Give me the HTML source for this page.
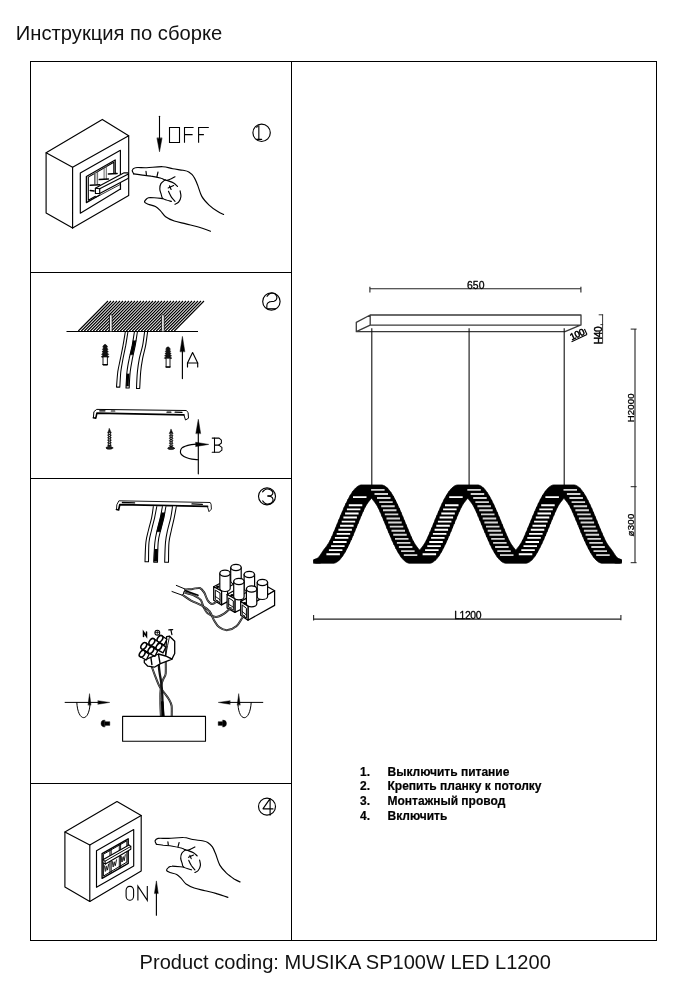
<!DOCTYPE html>
<html><head><meta charset="utf-8">
<style>
html,body{margin:0;padding:0;background:#fff;}
body{width:690px;height:1000px;position:relative;overflow:hidden;font-family:"Liberation Sans",sans-serif;color:#111;}
#title,#footer,.lst{filter:grayscale(1);}
#title{position:absolute;left:15.8px;top:21.5px;font-size:20.2px;line-height:22px;white-space:nowrap;}
#footer{position:absolute;left:139.6px;top:950.8px;font-size:20.06px;line-height:23px;white-space:nowrap;}
svg{position:absolute;left:0;top:0;}
.lst{position:absolute;left:360px;font-size:12px;font-weight:bold;line-height:15px;white-space:nowrap;letter-spacing:0px;color:#000;-webkit-text-stroke:0.2px #000;}
.lst b{display:inline-block;width:27.5px;}
</style></head><body>
<div id="title">Инструкция по сборке</div>
<svg width="690" height="1000" viewBox="0 0 690 1000" fill="none" stroke="#000" stroke-width="1.15" stroke-linecap="round" stroke-linejoin="round">
<!-- FRAME -->
<g id="frame" stroke-width="1" stroke-linecap="square" shape-rendering="crispEdges">
<rect x="30.5" y="61.5" width="626" height="879"/>
<line x1="291.5" y1="61.5" x2="291.5" y2="940.5"/>
<line x1="30.5" y1="272.5" x2="291.5" y2="272.5"/>
<line x1="30.5" y1="478.5" x2="291.5" y2="478.5"/>
<line x1="30.5" y1="783.5" x2="291.5" y2="783.5"/>
</g>
<!-- PANEL1 -->
<g id="panel1">
<path d="M46.1 152.8 L102.3 119.4 L128.7 135.8 L72.6 167.2 Z"/>
<path d="M46.1 152.8 L46.1 212.9 L72.6 228.1 L72.6 167.2"/>
<path d="M72.6 228.1 L128.7 195.5 L128.7 135.8"/>
<path d="M80.3 173.0 L120.4 150.3 L120.4 189.0 L80.3 213.2 Z"/>
<path d="M115.2 173.5 L115.2 160.0 L86.4 176.5 L86.4 202.6 L99.7 195.0" stroke-width="1.3"/>
<path d="M113.8 173.0 L113.8 162.2 L88.3 177.1 L88.3 200.3 L95.4 196.3" stroke-width="1.1"/>
<path d="M95.4 188.3 L99.3 186.1 L124.1 172.8 L128.4 172.8 L128.4 178.3 L99.7 193.5 L95.4 193.5 Z" fill="#fff"/>
<path d="M95.4 188.3 L99.7 188.7 L128.4 173.9"/>
<path d="M99.7 188.7 L99.7 193.5"/>
<path d="M95.8 197.4 L120.6 184.3 L120.6 189.6" stroke-width="0.8"/>
<path d="M94.5 172.4 L94.5 183.9" stroke-width="0.9" stroke="#555"/>
<path d="M97.6 171.0 L97.6 183.9" stroke-width="0.9" stroke="#555"/>
<path d="M104.1 167.2 L104.1 179.1" stroke-width="0.9" stroke="#555"/>
<path d="M106.3 165.8 L106.3 179.1" stroke-width="0.9" stroke="#555"/>
<path d="M95.8 172.6 L95.8 183.5" stroke-width="1.2" stroke="#888"/>
<path d="M90.2 185.2 L99.7 184.8" stroke-width="1.5"/>
<path d="M99.3 179.6 L108.4 179.1" stroke-width="1.5"/>
<path d="M108.4 173.9 L117.1 173.5" stroke-width="1.5"/>
<path d="M90.2 190.4 L94.1 190.9" stroke-width="1.5"/>
<path d="M133.7 173.9 C133.5 173.3 132.0 171.3 132.2 170.3 C132.5 169.3 133.0 168.1 135.4 167.7 C137.9 167.2 142.2 167.9 146.7 167.7 C151.3 167.5 158.3 166.5 162.7 166.7 C167.0 166.9 169.4 168.2 172.8 168.8 C176.2 169.4 180.3 169.8 183.0 170.3 C185.6 170.8 187.0 170.9 188.8 172.0 C190.6 173.1 192.4 174.7 193.8 176.8 C195.3 178.9 196.1 181.5 197.5 184.8 C198.8 188.0 199.9 193.0 201.8 196.4 C203.7 199.8 206.4 202.5 209.1 205.1 C211.7 207.6 215.3 210.0 217.8 211.6 C220.2 213.2 222.6 214.0 223.6 214.5"/>
<path d="M133.7 173.9 C134.9 174.1 138.0 174.6 140.9 174.9 C143.8 175.3 147.7 175.5 151.1 176.1 C154.5 176.6 158.6 177.5 161.2 178.3 C163.9 179.0 164.7 180.7 167.0 180.4 C169.3 180.2 173.7 177.4 175.0 176.8"/>
<path d="M146.0 171.4 L146.4 174.6"/>
<path d="M158.0 172.0 L156.9 176.8"/>
<path d="M165.3 179.7 C164.6 180.4 161.9 182.1 160.9 183.6 C160.0 185.2 159.7 187.4 159.8 189.1 C159.8 190.9 160.7 192.6 161.2 194.2 C161.8 195.8 161.3 197.3 163.0 198.6 C164.7 199.8 170.0 201.0 171.4 201.4"/>
<path d="M167.0 180.4 C168.1 180.9 171.8 182.0 173.6 183.0 C175.3 184.1 176.8 185.9 177.5 186.5"/>
<path d="M180.1 190.9 C180.2 191.8 181.2 194.8 180.9 196.7 C180.7 198.6 179.6 200.9 178.6 202.2 C177.6 203.5 175.6 204.0 175.0 204.3"/>
<path d="M168.2 188.0 L173.6 185.5"/>
<path d="M169.6 185.9 L171.1 189.4"/>
<path d="M168.5 191.3 C169.0 192.3 170.3 195.4 171.4 197.1 C172.5 198.8 174.4 200.7 175.0 201.4"/>
<path d="M163.0 198.6 C160.9 198.4 153.1 197.5 150.4 197.5 C147.7 197.6 147.7 198.1 146.7 198.8 C145.8 199.6 144.3 201.3 144.6 202.2 C144.8 203.1 146.4 203.6 148.2 204.3 C150.0 205.1 153.4 205.4 155.4 206.5 C157.5 207.6 158.8 209.2 160.5 210.9 C162.2 212.6 163.3 215.0 165.6 216.7 C167.9 218.4 170.9 219.8 174.3 221.0 C177.7 222.2 182.0 222.9 185.9 223.9 C189.7 224.9 193.4 225.6 197.5 226.8 C201.6 228.0 208.3 230.4 210.5 231.2"/>
<path d="M159.5 116.2 L159.5 140" stroke-width="1.1"/>
<path d="M157 138.2 L159.5 151.8 L162 138.2 Z" fill="#000" stroke-width="0.5"/>
<path d="M169.5 127.5 H179.5 V142.5 H169.5 Z" stroke-width="1.1" stroke-linejoin="miter"/>
<path d="M193.6 127.5 H184.5 V142.8 M184.5 134.6 H192.6" stroke-width="1.1" stroke-linecap="butt" stroke-linejoin="miter"/>
<path d="M208.8 127.5 H198.6 V142.8 M198.6 134.6 H203.9" stroke-width="1.1" stroke-linecap="butt" stroke-linejoin="miter"/>
<circle cx="261.6" cy="132.75" r="8.7"/>
<path d="M256.5 127.1 L258.8 125.7 L258.8 139.2" stroke-width="1.4" stroke="#333"/>
<path d="M256.6 139.3 L261.7 139.3" stroke-width="1.2"/>
</g>
<!-- /PANEL1 -->
<!-- PANEL2 -->
<g id="panel2">
<path d="M78.30 331.0 L108.00 301.0 M81.30 331.0 L111.00 301.0 M84.30 331.0 L114.00 301.0 M87.30 331.0 L117.00 301.0 M90.30 331.0 L120.00 301.0 M93.30 331.0 L123.00 301.0 M96.30 331.0 L126.00 301.0 M99.30 331.0 L129.00 301.0 M102.30 331.0 L132.00 301.0 M105.30 331.0 L135.00 301.0 M108.30 331.0 L138.00 301.0 M111.30 331.0 L141.00 301.0 M114.30 331.0 L144.00 301.0 M117.30 331.0 L147.00 301.0 M120.30 331.0 L150.00 301.0 M123.30 331.0 L153.00 301.0 M126.30 331.0 L156.00 301.0 M129.30 331.0 L159.00 301.0 M132.30 331.0 L162.00 301.0 M135.30 331.0 L165.00 301.0 M138.30 331.0 L168.00 301.0 M141.30 331.0 L171.00 301.0 M144.30 331.0 L174.00 301.0 M147.30 331.0 L177.00 301.0 M150.30 331.0 L180.00 301.0 M153.30 331.0 L183.00 301.0 M156.30 331.0 L186.00 301.0 M159.30 331.0 L189.00 301.0 M162.30 331.0 L192.00 301.0 M165.30 331.0 L195.00 301.0 M168.30 331.0 L198.00 301.0 M171.30 331.0 L201.00 301.0 M174.30 331.0 L204.00 301.0 " stroke-width="1.1" stroke="#000" stroke-linecap="butt"/>
<path d="M66.5 331.5 L198 331.5" stroke-width="1.1" stroke-linecap="butt"/>
<path d="M109.6 331.3 L109.6 315.3 Q110.8 313.8 112.1 315.3 L112.1 331.3" fill="#fff" stroke-width="0.8"/>
<path d="M161.7 331.3 L161.7 315.3 Q162.9 313.8 164.2 315.3 L164.2 331.3" fill="#fff" stroke-width="0.8"/>
<path d="M125.3 332.0 C124.9 334.2 123.8 341.2 123.0 345.7 C122.2 350.1 121.3 354.3 120.4 358.7 C119.6 363.0 118.5 367.0 117.8 371.7 C117.2 376.5 116.7 384.6 116.5 387.1 L119.8 387.1 C120.0 384.6 120.3 376.5 120.8 371.7 C121.4 367.0 122.2 363.0 123.0 358.7 C123.8 354.3 124.8 350.1 125.7 345.7 C126.5 341.2 127.5 334.2 127.9 332.0" fill="#fff" stroke-width="1.05"/>
<path d="M134.4 332.0 C134.0 334.2 133.0 341.2 132.2 345.7 C131.3 350.1 130.0 354.3 129.2 358.7 C128.3 363.0 127.5 366.8 127.0 371.7 C126.4 376.6 126.2 385.3 126.0 388.0 L129.2 388.0 C129.3 385.3 129.7 376.6 130.2 371.7 C130.8 366.8 131.6 363.0 132.4 358.7 C133.3 354.3 134.3 350.1 135.2 345.7 C136.0 341.2 137.0 334.2 137.4 332.0" fill="#fff" stroke-width="1.05"/>
<path d="M144.6 332.0 C144.2 334.2 143.5 341.2 142.6 345.7 C141.7 350.1 140.2 354.3 139.3 358.7 C138.5 363.0 137.9 366.8 137.4 371.7 C136.9 376.7 136.6 385.6 136.5 388.4 L139.7 388.4 C139.9 385.6 140.2 376.7 140.7 371.7 C141.1 366.8 141.8 363.0 142.6 358.7 C143.4 354.3 144.8 350.1 145.6 345.7 C146.4 341.2 147.2 334.2 147.6 332.0" fill="#fff" stroke-width="1.05"/>
<path d="M133.2 340.4 C133.0 341.3 132.7 343.3 132.2 345.7 C131.7 348.0 130.5 353.3 130.2 354.8 L132.8 354.8 C133.2 353.3 134.4 348.0 134.9 345.7 C135.4 343.3 135.8 341.3 136.0 340.4" fill="#000" stroke-width="0.5"/>
<path d="M127.0 373.7 C126.8 375.8 126.4 384.0 126.3 386.1 L128.7 386.1 C128.7 384.0 129.1 375.8 129.2 373.7" fill="#000" stroke-width="0.5"/>
<path d="M104.1 345.1 Q105.2 343.6 106.2 345.1 L106.4 345.1 L107.6 347.1 L106.4 347.6 L106.6 347.6 L108.0 349.5 L106.6 350.0 L106.8 350.0 L108.3 352.0 L106.8 352.5 L106.9 352.5 L108.7 354.4 L106.9 354.9 L107.1 354.9 L109.1 356.9 L107.1 357.4 L103.2 357.4 L101.3 356.9 L103.2 354.9 L103.4 354.9 L101.6 354.4 L103.4 352.5 L103.6 352.5 L102.0 352.0 L103.6 350.0 L103.8 350.0 L102.4 349.5 L103.8 347.6 L104.0 347.6 L102.7 347.1 L104.0 345.1 Z" fill="#111" stroke-width="0.6"/>
<path d="M103.0 357.4 L103.0 365.0 L107.4 365.0 L107.4 357.4" fill="#fff" stroke-width="0.9"/>
<path d="M103.0 364.6 L107.4 364.6" stroke-width="1.4"/>
<path d="M167.0 347.5 Q168.0 345.9 169.1 347.5 L169.2 347.5 L170.4 349.3 L169.2 349.7 L169.4 349.7 L170.7 351.5 L169.4 352.0 L169.6 352.0 L171.1 353.8 L169.6 354.2 L169.8 354.2 L171.5 356.0 L169.8 356.4 L169.9 356.4 L171.8 358.2 L169.9 358.7 L166.1 358.7 L164.3 358.2 L166.1 356.4 L166.3 356.4 L164.6 356.0 L166.3 354.2 L166.5 354.2 L165.0 353.8 L166.5 352.0 L166.7 352.0 L165.3 351.5 L166.7 349.7 L166.9 349.7 L165.7 349.3 L166.9 347.5 Z" fill="#111" stroke-width="0.6"/>
<path d="M166.1 358.7 L166.1 367.3 L170.0 367.3 L170.0 358.7" fill="#fff" stroke-width="0.9"/>
<path d="M166.1 366.9 L170.0 366.9" stroke-width="1.4"/>
<path d="M182.4 350.3 L182.4 378.6"/>
<path d="M180.1 351.4 L182.4 336.4 L184.8 351.4 Z" fill="#000" stroke-width="0.5"/>
<path d="M187.5 367.0 L187.5 363.0 L192.6 352.6 L197.7 363.0 L197.7 367.0"/>
<path d="M187.5 363.0 L197.7 363.0"/>
<circle cx="271.4" cy="301.5" r="8.7"/>
<path d="M267.1 296.3 C267.5 295.9 268.5 294.2 269.7 293.7 C270.9 293.2 273.2 292.9 274.3 293.4 C275.5 293.9 276.4 295.6 276.8 296.6 C277.1 297.6 276.8 298.7 276.4 299.5 C275.9 300.3 275.2 300.8 274.1 301.2 C272.9 301.6 270.6 301.4 269.4 301.9 C268.3 302.4 267.5 303.1 267.1 304.1 C266.7 305.2 266.9 307.5 266.8 308.2"/>
<path d="M267.2 308.7 L275.7 308.7" stroke-width="1.0"/>
<path d="M93.4 417.7 L93.9 411.7 L96.7 409.4 L186.2 410.5 L188.1 412.4 L188.5 418.2 L185.5 420.0 L183.9 414.9" stroke-width="1.0"/>
<path d="M93.4 417.7 L95.8 418.2 L96.9 413.1 L183.9 414.9" stroke-width="1.6"/>
<path d="M99.7 410.8 L105.0 410.8" stroke-width="1.2"/>
<path d="M111.3 411.0 L114.8 411.0" stroke-width="1.2"/>
<path d="M167.0 412.2 L170.9 412.2" stroke-width="1.2"/>
<path d="M175.1 412.2 L182.0 412.4" stroke-width="1.2"/>
<path d="M109.4 428.6 L110.6 431.4 L111.3 432.7 L110.4 433.9 L111.3 435.2 L110.4 436.4 L111.3 437.7 L110.4 438.9 L111.3 440.2 L110.4 441.5 L111.3 442.7 L110.4 444.0 L111.3 445.2 L110.4 446.5 L108.5 446.5 L107.6 445.2 L108.5 444.0 L107.6 442.7 L108.5 441.5 L107.6 440.2 L108.5 438.9 L107.6 437.7 L108.5 436.4 L107.6 435.2 L108.5 433.9 L107.6 432.7 L108.3 431.4 Z" fill="#111" stroke-width="0.5"/>
<path d="M109.4 432.8 L109.4 446.0" stroke="#fff" stroke-width="0.9" stroke-dasharray="1.1 1.1" stroke-linecap="butt"/>
<ellipse cx="109.4" cy="447.9" rx="3.4" ry="1.3" fill="#222" stroke-width="0.6"/>
<path d="M171.1 429.3 L172.3 432.1 L173.0 433.3 L172.1 434.6 L173.0 435.8 L172.1 437.0 L173.0 438.3 L172.1 439.5 L173.0 440.8 L172.1 442.0 L173.0 443.2 L172.1 444.5 L173.0 445.7 L172.1 446.9 L170.2 446.9 L169.3 445.7 L170.2 444.5 L169.3 443.2 L170.2 442.0 L169.3 440.8 L170.2 439.5 L169.3 438.3 L170.2 437.0 L169.3 435.8 L170.2 434.6 L169.3 433.3 L170.0 432.1 Z" fill="#111" stroke-width="0.5"/>
<path d="M171.1 433.5 L171.1 446.5" stroke="#fff" stroke-width="0.9" stroke-dasharray="1.1 1.1" stroke-linecap="butt"/>
<ellipse cx="171.1" cy="448.3" rx="3.4" ry="1.3" fill="#222" stroke-width="0.6"/>
<path d="M198.3 432.1 L198.3 473.8"/>
<path d="M195.9 433.3 L198.3 419.3 L200.6 433.3 Z" fill="#000" stroke-width="0.5"/>
<path d="M198.3 459.7 C196.7 459.5 191.8 459.5 189.0 458.5 C186.1 457.6 182.3 455.9 181.1 454.1 C179.9 452.4 180.3 449.5 182.0 447.9 C183.7 446.3 188.6 445.2 191.3 444.6 C194.0 444.0 197.1 444.2 198.3 444.2"/>
<path d="M195.9 442.3 L208.7 444.4 L195.9 446.5 Z" fill="#000" stroke-width="0.5"/>
<path d="M212.2 438.1 L219.1 438.1 L221.4 440.2 L221.4 443.0 L218.7 445.1 L214.5 445.1" stroke-width="1.05"/>
<path d="M218.7 445.1 L221.9 447.4 L221.9 450.2 L219.1 452.3 L212.2 452.3" stroke-width="1.05"/>
<path d="M214.5 438.1 L214.5 452.3" stroke-width="1.05"/>
</g>
<!-- /PANEL2 -->
<!-- PANEL3 -->
<g id="panel3">
<path d="M116.5 509.5 L116.8 504.8 L118.9 500.8 L210.2 502.5 L211.1 504.3 L211.4 509.1 L209.0 511.7 L207.6 507.0" stroke-width="0.9"/>
<path d="M116.5 509.5 L118.6 510.0 L119.8 504.6 L207.6 506.3" stroke-width="1.7"/>
<path d="M122.4 502.5 L134.6 502.9" stroke-width="1.3"/>
<path d="M192.0 503.9 L202.4 504.3" stroke-width="1.3"/>
<path d="M153.3 506.5 C153.1 508.4 152.4 513.9 151.6 517.8 C150.8 521.7 149.4 525.9 148.5 530.0 C147.5 534.1 146.4 536.9 145.9 542.2 C145.3 547.4 145.1 558.4 145.0 561.7 L148.5 561.7 C148.6 558.4 148.5 547.4 149.0 542.2 C149.5 536.9 150.7 534.1 151.6 530.0 C152.5 525.9 153.7 521.7 154.6 517.8 C155.4 513.9 156.4 508.4 156.8 506.5" fill="#fff" stroke-width="1.05"/>
<path d="M162.4 506.5 C162.0 508.4 161.2 513.9 160.3 517.8 C159.4 521.7 158.1 525.9 157.2 530.0 C156.3 534.1 155.5 536.8 154.9 542.2 C154.3 547.5 153.9 558.8 153.7 562.2 L157.5 562.2 C157.6 558.8 157.7 547.5 158.2 542.2 C158.7 536.8 159.7 534.1 160.7 530.0 C161.6 525.9 162.9 521.7 163.8 517.8 C164.7 513.9 165.5 508.4 165.9 506.5" fill="#fff" stroke-width="1.05"/>
<path d="M172.5 506.5 C172.2 508.4 171.6 513.9 170.7 517.8 C169.9 521.7 168.5 525.9 167.6 530.0 C166.7 534.1 166.0 536.8 165.5 542.2 C165.0 547.5 164.8 558.8 164.7 562.2 L168.5 562.2 C168.6 558.8 168.5 547.5 169.0 542.2 C169.5 536.8 170.6 534.1 171.4 530.0 C172.3 525.9 173.4 521.7 174.2 517.8 C175.0 513.9 176.0 508.4 176.3 506.5" fill="#fff" stroke-width="1.05"/>
<path d="M161.5 512.6 C161.3 513.5 161.1 514.6 160.3 517.8 C159.5 521.0 157.4 529.4 156.8 531.7 L160.3 531.7 C160.9 529.4 163.1 521.0 163.8 517.8 C164.5 514.6 164.5 513.5 164.7 512.6" fill="#000" stroke-width="0.5"/>
<path d="M154.6 549.1 C154.5 551.2 154.1 559.3 154.0 561.3 L157.2 561.3 C157.3 559.3 157.6 551.2 157.7 549.1" fill="#000" stroke-width="0.5"/>
<circle cx="267.0" cy="496.3" r="8.5" stroke-width="1.15"/>
<path d="M262.6 491.9 C262.9 491.5 263.8 490.4 264.6 489.9 C265.3 489.4 266.2 489.0 267.2 489.0 C268.2 489.0 269.5 489.2 270.4 489.7 C271.3 490.1 272.1 491.0 272.5 491.6 C272.9 492.3 273.0 492.9 272.8 493.6 C272.6 494.2 272.0 495.0 271.2 495.4 C270.4 495.8 268.4 495.9 267.8 496.0"/>
<path d="M267.8 496.0 C268.4 496.2 270.4 496.4 271.2 496.8 C272.1 497.3 272.7 498.2 272.9 498.9 C273.2 499.6 273.0 500.5 272.7 501.2 C272.3 501.9 271.5 502.9 270.6 503.4 C269.7 503.8 268.2 504.2 267.2 504.1 C266.2 504.1 265.3 503.5 264.6 503.0 C263.8 502.4 263.0 501.2 262.7 500.9"/>
<path d="M213.7 586.7 L221.5 591.0 L242.4 579.3 L234.6 575.5 Z" fill="#fff" stroke-width="1.25"/>
<path d="M221.5 591.0 L221.5 604.9 L227.6 601.6 L227.6 588.0 Z" fill="#fff" stroke-width="1.25"/>
<path d="M230.7 567.5 L230.7 581.1 A5.2 3.1 0 0 0 241.2 581.1 L241.2 567.5 Z" fill="#fff" stroke-width="1.2"/>
<ellipse cx="236.0" cy="567.5" rx="5.2" ry="3.1" fill="#fff" stroke-width="1.25"/>
<path d="M219.8 573.3 L219.8 588.4 A5.2 3.1 0 0 0 230.2 588.4 L230.2 573.3 Z" fill="#fff" stroke-width="1.2"/>
<ellipse cx="225.0" cy="573.3" rx="5.2" ry="3.1" fill="#fff" stroke-width="1.25"/>
<path d="M213.7 586.7 L213.7 600.2 L221.5 604.9 L221.5 591.0 Z" fill="#fff" stroke-width="1.25"/>
<path d="M215.3 590.5 L215.3 599.5 L220.0 602.8 L220.0 593.4 Z" stroke-width="1.0"/>
<path d="M215.3 596.4 L220.0 599.7" stroke-width="0.9"/>
<ellipse cx="217.7" cy="586.8" rx="1.6" ry="1.2" fill="#000" stroke="none"/>
<path d="M227.1 594.5 L234.9 598.8 L255.8 587.2 L248.1 582.8 Z" fill="#fff" stroke-width="1.25"/>
<path d="M234.9 598.8 L234.9 612.4 L241.2 609.3 L241.2 595.7 Z" fill="#fff" stroke-width="1.25"/>
<path d="M244.1 574.5 L244.1 588.4 A5.2 3.1 0 0 0 254.6 588.4 L254.6 574.5 Z" fill="#fff" stroke-width="1.2"/>
<ellipse cx="249.3" cy="574.5" rx="5.2" ry="3.1" fill="#fff" stroke-width="1.25"/>
<path d="M233.7 581.4 L233.7 596.7 A5.2 3.1 0 0 0 244.1 596.7 L244.1 581.4 Z" fill="#fff" stroke-width="1.2"/>
<ellipse cx="238.9" cy="581.4" rx="5.2" ry="3.1" fill="#fff" stroke-width="1.25"/>
<path d="M227.1 594.5 L227.1 608.0 L234.9 612.4 L234.9 598.8 Z" fill="#fff" stroke-width="1.25"/>
<path d="M228.7 598.3 L228.7 607.3 L233.3 610.3 L233.3 601.3 Z" stroke-width="1.0"/>
<path d="M228.7 604.2 L233.3 607.2" stroke-width="0.9"/>
<ellipse cx="232.0" cy="595.3" rx="1.6" ry="1.2" fill="#000" stroke="none"/>
<path d="M240.7 601.4 L248.0 606.3 L274.6 590.7 L267.6 586.7 Z" fill="#fff" stroke-width="1.25"/>
<path d="M248.0 606.3 L248.0 620.2 L274.6 605.4 L274.6 590.7 Z" fill="#fff" stroke-width="1.25"/>
<path d="M257.2 582.5 L257.2 596.4 A5.2 3.1 0 0 0 267.6 596.4 L267.6 582.5 Z" fill="#fff" stroke-width="1.2"/>
<ellipse cx="262.4" cy="582.5" rx="5.2" ry="3.1" fill="#fff" stroke-width="1.25"/>
<path d="M246.4 588.9 L246.4 603.7 A5.2 3.1 0 0 0 256.8 603.7 L256.8 588.9 Z" fill="#fff" stroke-width="1.2"/>
<ellipse cx="251.6" cy="588.9" rx="5.2" ry="3.1" fill="#fff" stroke-width="1.25"/>
<path d="M240.7 601.4 L240.7 615.3 L248.0 620.2 L248.0 606.3 Z" fill="#fff" stroke-width="1.25"/>
<path d="M242.2 605.3 L242.2 614.7 L246.4 618.1 L246.4 608.7 Z" stroke-width="1.0"/>
<path d="M242.2 611.5 L246.4 615.0" stroke-width="0.9"/>
<ellipse cx="244.7" cy="603.3" rx="1.6" ry="1.2" fill="#000" stroke="none"/>
<path d="M172.0 591.5 L182.4 595.3 L185.9 589.4 L176.3 585.4" stroke-width="1.0"/>
<path d="M185.0 589.8 C186.3 589.6 190.4 589.2 192.8 588.9 C195.3 588.6 197.9 587.5 199.8 588.0 C201.7 588.6 202.8 590.4 204.1 592.4 C205.4 594.4 206.3 598.3 207.6 600.2 C208.9 602.2 210.4 603.9 212.0 604.0 C213.6 604.2 216.3 601.6 217.2 601.1" stroke-width="2.0" stroke="#111"/>
<path d="M185.0 589.8 C186.3 589.6 190.4 589.2 192.8 588.9 C195.3 588.6 197.9 587.5 199.8 588.0 C201.7 588.6 202.8 590.4 204.1 592.4 C205.4 594.4 206.3 598.3 207.6 600.2 C208.9 602.2 210.4 603.9 212.0 604.0 C213.6 604.2 216.3 601.6 217.2 601.1" stroke-width="0.55" stroke="#ccc"/>
<path d="M184.1 592.4 C185.7 592.9 190.9 594.1 193.7 595.3 C196.4 596.6 199.0 597.9 200.7 599.9 C202.3 601.8 202.4 604.9 203.6 607.2 C204.8 609.4 205.6 611.6 207.6 613.3 C209.6 614.9 213.1 616.8 215.8 616.9 C218.5 617.0 221.3 615.3 223.8 613.8 C226.3 612.3 229.6 609.0 230.7 608.0" stroke-width="2.0" stroke="#111"/>
<path d="M184.1 592.4 C185.7 592.9 190.9 594.1 193.7 595.3 C196.4 596.6 199.0 597.9 200.7 599.9 C202.3 601.8 202.4 604.9 203.6 607.2 C204.8 609.4 205.6 611.6 207.6 613.3 C209.6 614.9 213.1 616.8 215.8 616.9 C218.5 617.0 221.3 615.3 223.8 613.8 C226.3 612.3 229.6 609.0 230.7 608.0" stroke-width="0.55" stroke="#ccc"/>
<path d="M182.7 595.0 C184.1 595.9 188.0 598.8 191.1 600.6 C194.2 602.3 198.5 603.7 201.5 605.4 C204.6 607.2 207.3 608.5 209.3 611.0 C211.4 613.5 212.4 617.5 214.0 620.2 C215.7 622.9 217.0 625.7 219.3 627.3 C221.5 629.0 224.8 630.3 227.6 630.1 C230.4 630.0 234.0 628.2 236.3 626.3 C238.6 624.4 240.3 620.7 241.5 619.0 C242.8 617.3 243.4 616.4 243.8 615.9" stroke-width="2.0" stroke="#111"/>
<path d="M182.7 595.0 C184.1 595.9 188.0 598.8 191.1 600.6 C194.2 602.3 198.5 603.7 201.5 605.4 C204.6 607.2 207.3 608.5 209.3 611.0 C211.4 613.5 212.4 617.5 214.0 620.2 C215.7 622.9 217.0 625.7 219.3 627.3 C221.5 629.0 224.8 630.3 227.6 630.1 C230.4 630.0 234.0 628.2 236.3 626.3 C238.6 624.4 240.3 620.7 241.5 619.0 C242.8 617.3 243.4 616.4 243.8 615.9" stroke-width="0.55" stroke="#ccc"/>
<path d="M185.5 590.7 L198.0 595.3" stroke-width="1.6"/>
<path d="M151.7 666.5 C152.3 668.1 153.9 672.8 155.2 676.1 C156.5 679.4 158.0 683.6 159.6 686.5 C161.2 689.4 163.2 691.3 164.8 693.5 C166.4 695.7 168.0 697.5 169.1 699.6 C170.3 701.6 171.1 702.9 171.6 705.7 C172.0 708.4 171.7 714.3 171.7 716.1" stroke-width="2.0" stroke="#111"/>
<path d="M151.7 666.5 C152.3 668.1 153.9 672.8 155.2 676.1 C156.5 679.4 158.0 683.6 159.6 686.5 C161.2 689.4 163.2 691.3 164.8 693.5 C166.4 695.7 168.0 697.5 169.1 699.6 C170.3 701.6 171.1 702.9 171.6 705.7 C172.0 708.4 171.7 714.3 171.7 716.1" stroke-width="0.5" stroke="#ccc"/>
<path d="M165.7 657.0 C165.7 659.7 166.0 669.9 165.7 673.5 C165.3 677.1 164.2 676.8 163.5 678.7 C162.8 680.6 161.8 682.3 161.3 684.8 C160.8 687.2 160.6 690.3 160.4 693.5 C160.3 696.7 160.4 700.1 160.4 703.9 C160.5 707.7 160.8 714.1 160.9 716.1" stroke-width="2.0" stroke="#111"/>
<path d="M165.7 657.0 C165.7 659.7 166.0 669.9 165.7 673.5 C165.3 677.1 164.2 676.8 163.5 678.7 C162.8 680.6 161.8 682.3 161.3 684.8 C160.8 687.2 160.6 690.3 160.4 693.5 C160.3 696.7 160.4 700.1 160.4 703.9 C160.5 707.7 160.8 714.1 160.9 716.1" stroke-width="0.5" stroke="#ccc"/>
<path d="M158.7 663.9 C158.8 665.4 159.1 669.4 159.6 672.6 C160.0 675.8 160.9 679.6 161.3 683.0 C161.7 686.5 162.0 690.0 162.2 693.5 C162.4 697.0 162.4 700.1 162.6 703.9 C162.8 707.7 163.3 714.1 163.5 716.1" stroke-width="2.3" stroke="#111"/>
<path d="M162.3 702.2 L163.0 717.0" stroke-width="2.6"/>
<path d="M166.6 636.7 L169.6 636.2 L174.7 641.3 L174.7 653.5 L171.9 659.1 L165.6 656.0 Z" fill="#fff" stroke-width="1.3"/>
<path d="M169.6 636.2 L167.6 645.4 L165.6 656.0" stroke-width="0.9"/>
<path d="M144.3 660.1 L158.5 654.0 L165.6 656.0 L171.9 659.1 L169.6 660.1 L160.5 663.6 L154.4 667.2 L147.8 666.2 L144.3 662.6 Z" fill="#fff" stroke-width="1.3"/>
<path d="M150.9 657.5 L151.9 664.6" stroke-width="1.4"/>
<path d="M158.5 654.5 L160.0 663.1" stroke-width="1.4"/>
<path d="M161.8 635.7 L166.9 639.3 L164.1 645.1 L158.2 641.8 Z" fill="#fff" stroke-width="1.3"/>
<ellipse cx="160.0" cy="638.8" rx="2.4" ry="3.7" transform="rotate(35 160.0 638.8)" fill="#fff" stroke-width="1.55"/>
<path d="M153.7 638.8 L158.8 642.3 L155.9 648.1 L150.1 644.9 Z" fill="#fff" stroke-width="1.3"/>
<ellipse cx="151.9" cy="641.8" rx="2.4" ry="3.7" transform="rotate(35 151.9 641.8)" fill="#fff" stroke-width="1.55"/>
<path d="M145.6 642.8 L150.7 646.4 L147.8 652.2 L141.9 648.9 Z" fill="#fff" stroke-width="1.3"/>
<ellipse cx="143.8" cy="645.9" rx="2.4" ry="3.7" transform="rotate(35 143.8 645.9)" fill="#fff" stroke-width="1.55"/>
<path d="M160.8 643.5 L165.9 647.1 L163.0 652.9 L157.2 649.6 Z" fill="#fff" stroke-width="1.3"/>
<ellipse cx="159.0" cy="646.6" rx="2.4" ry="3.7" transform="rotate(35 159.0 646.6)" fill="#fff" stroke-width="1.55"/>
<path d="M152.7 647.1 L157.8 650.6 L154.9 656.4 L149.0 653.2 Z" fill="#fff" stroke-width="1.3"/>
<ellipse cx="150.9" cy="650.1" rx="2.4" ry="3.7" transform="rotate(35 150.9 650.1)" fill="#fff" stroke-width="1.55"/>
<path d="M144.1 650.6 L149.1 654.2 L146.3 660.0 L140.4 656.7 Z" fill="#fff" stroke-width="1.3"/>
<ellipse cx="142.2" cy="653.7" rx="2.4" ry="3.7" transform="rotate(35 142.2 653.7)" fill="#fff" stroke-width="1.55"/>
<path d="M143.5 636.4 L143.5 632.0 L146.5 636.4 L146.5 632.0" stroke-width="1.5" stroke-linejoin="miter"/>
<circle cx="157.3" cy="632.7" r="2.4" stroke-width="1.1"/>
<path d="M155.4 632.4 L159.1 632.4" stroke-width="0.8"/>
<path d="M157.3 631.2 L157.3 634.0" stroke-width="0.8"/>
<path d="M168.8 629.9 L172.7 629.6" stroke-width="1.2"/>
<path d="M170.9 629.8 L171.9 634.7" stroke-width="1.2"/>
<path d="M122.6 716.4 L205.5 716.4 L205.5 741.3 L122.6 741.3 Z" fill="#fff" stroke-width="1.1"/>
<path d="M65.1 702.4 L98.6 702.4" stroke-width="1.0"/>
<path d="M98.1 700.7 L109.8 702.4 L98.1 704.3 Z" fill="#000" stroke-width="0.4"/>
<path d="M76.8 702.4 C77.8 722.5 89.0 722.5 90.0 704.3" stroke-width="1.0"/>
<path d="M88.0 704.8 L89.5 693.6 L91.0 704.8 Z" fill="#000" stroke-width="0.4"/>
<path d="M229.9 702.4 L262.8 702.4" stroke-width="1.0"/>
<path d="M229.9 700.7 L218.2 702.4 L229.9 704.3 Z" fill="#000" stroke-width="0.4"/>
<path d="M251.2 702.4 C250.1 722.5 239.0 722.5 238.0 704.8" stroke-width="1.0"/>
<path d="M237.2 704.8 L238.7 693.6 L240.2 704.8 Z" fill="#000" stroke-width="0.4"/>
<path d="M104.7 720.1 A3.6 3.4 0 0 0 104.7 727.0 Z" fill="#000" stroke-width="0.4"/>
<path d="M104.7 721.7 L109.8 721.7 L109.8 725.4 L104.7 725.4 Z" fill="#000" stroke-width="0.4"/>
<path d="M222.8 720.1 A3.6 3.4 0 0 1 222.8 727.0 Z" fill="#000" stroke-width="0.4"/>
<path d="M222.8 721.7 L218.2 721.7 L218.2 725.4 L222.8 725.4 Z" fill="#000" stroke-width="0.4"/>
</g>
<!-- /PANEL3 -->
<!-- PANEL4 -->
<g id="panel4">
<path d="M64.9 832.0 L117.0 801.5 L141.2 815.6 L89.8 845.0 Z"/>
<path d="M64.9 832.0 L64.9 887.0 L89.8 901.5 L89.8 845.0"/>
<path d="M89.8 901.5 L141.2 871.1 L141.2 815.6"/>
<path d="M96.5 850.7 L133.7 829.5 L133.7 865.9 L96.5 887.3 Z"/>
<path d="M102.1 853.6 L128.2 838.8 L128.2 863.4 L102.1 878.3 Z" stroke-width="1.4"/>
<path d="M103.7 854.1 L126.9 840.8 L126.9 862.1 L103.7 875.9 Z" stroke-width="1.0"/>
<path d="M109.9 850.4 L109.9 872.8" stroke-width="0.9"/>
<path d="M111.2 849.6 L111.2 872.1" stroke-width="0.9"/>
<path d="M119.3 844.8 L119.3 867.4" stroke-width="0.9"/>
<path d="M120.6 844.1 L120.6 866.7" stroke-width="0.9"/>
<path d="M104.5 865.9 L105.3 871.4 L106.5 866.3 L107.5 870.1 L108.7 864.1" stroke-width="0.9"/>
<path d="M104.9 865.9 L105.8 871.0 L106.9 865.9" stroke-width="0.7" stroke="#444"/>
<path d="M112.3 861.6 L113.2 867.0 L114.3 862.0 L115.3 865.7 L116.5 859.8" stroke-width="0.9"/>
<path d="M112.7 861.6 L113.6 866.7 L114.8 861.6" stroke-width="0.7" stroke="#444"/>
<path d="M121.1 856.5 L122.0 862.0 L123.2 856.9 L124.2 860.7 L125.3 854.7" stroke-width="0.9"/>
<path d="M121.6 856.5 L122.4 861.6 L123.6 856.5" stroke-width="0.7" stroke="#444"/>
<path d="M102.9 859.8 L129.0 844.9 L130.8 846.4 L130.8 849.3 L105.4 864.1 L102.9 862.7 Z" fill="#fff" stroke-width="1.1"/>
<path d="M102.9 859.8 L105.0 861.2 L130.8 846.4" stroke-width="1.0"/>
<path d="M105.0 861.2 L105.4 864.1" stroke-width="1.0"/>
<path d="M156.4 844.2 C156.2 843.6 154.8 841.8 155.1 840.8 C155.4 839.9 155.8 838.8 158.1 838.4 C160.3 838.0 164.4 838.6 168.6 838.4 C172.8 838.3 179.4 837.3 183.4 837.5 C187.4 837.6 189.7 838.9 192.8 839.5 C196.0 840.1 199.8 840.3 202.3 840.8 C204.7 841.3 206.0 841.4 207.7 842.5 C209.3 843.5 211.0 844.9 212.4 846.9 C213.7 848.9 214.5 851.3 215.8 854.3 C217.0 857.4 218.0 862.0 219.8 865.1 C221.6 868.2 224.1 870.8 226.5 873.2 C229.0 875.5 232.4 877.8 234.6 879.3 C236.9 880.7 239.1 881.5 240.0 881.9"/>
<path d="M156.4 844.2 C157.6 844.4 160.5 844.8 163.2 845.2 C165.9 845.5 169.5 845.7 172.6 846.2 C175.8 846.7 179.6 847.6 182.1 848.3 C184.5 848.9 185.3 850.5 187.4 850.3 C189.6 850.0 193.6 847.5 194.9 846.9"/>
<path d="M167.9 841.9 L168.3 844.9"/>
<path d="M179.1 842.5 L178.0 846.9"/>
<path d="M185.8 849.6 C185.2 850.2 182.6 851.8 181.8 853.2 C180.9 854.7 180.7 856.7 180.7 858.4 C180.8 860.0 181.6 861.6 182.1 863.1 C182.5 864.5 182.1 866.0 183.7 867.1 C185.2 868.2 190.2 869.4 191.5 869.8"/>
<path d="M187.4 850.3 C188.5 850.7 191.9 851.8 193.5 852.7 C195.1 853.6 196.5 855.4 197.2 855.9"/>
<path d="M199.6 860.0 C199.7 860.9 200.6 863.6 200.4 865.4 C200.2 867.1 199.2 869.3 198.2 870.5 C197.3 871.7 195.4 872.2 194.9 872.5"/>
<path d="M188.5 857.3 L193.5 855.0"/>
<path d="M189.9 855.4 L191.2 858.6"/>
<path d="M188.8 860.4 C189.2 861.3 190.5 864.2 191.5 865.8 C192.5 867.3 194.3 869.1 194.9 869.8"/>
<path d="M183.7 867.1 C181.7 867.0 174.5 866.1 171.9 866.2 C169.4 866.2 169.5 866.7 168.6 867.4 C167.7 868.1 166.3 869.6 166.6 870.5 C166.8 871.3 168.2 871.8 169.9 872.5 C171.6 873.2 174.8 873.5 176.7 874.5 C178.6 875.5 179.8 877.0 181.4 878.6 C183.0 880.2 184.0 882.4 186.1 884.0 C188.2 885.5 191.0 886.9 194.2 888.0 C197.3 889.1 201.4 889.8 205.0 890.7 C208.6 891.6 211.9 892.3 215.8 893.4 C219.6 894.5 225.9 896.8 227.9 897.4"/>
<path d="M156.4 892.2 L156.4 915.2"/>
<path d="M154.5 893.2 L156.4 880.9 L158.2 893.2 Z" fill="#000" stroke-width="0.5"/>
<rect x="126.1" y="886.4" width="7.5" height="13.8" rx="3.4" ry="4.2" stroke-width="1.1"/>
<path d="M137.9 900.6 V886.2 L147.3 900.4 V886.0" stroke-width="1.1" stroke-linejoin="miter" stroke-linecap="butt"/>
<circle cx="267.0" cy="806.6" r="8.5" stroke-width="1.15"/>
<path d="M270.1 815.1 L270.1 798.6 L262.9 808.9 L273.0 808.9" stroke-linejoin="bevel"/>
</g>
<!-- /PANEL4 -->
<!-- LAMP -->
<g id="lamp">
<path d="M369.9 288.8 L580.9 288.8" stroke="#222" stroke-width="1.10" stroke-linecap="butt"/>
<path d="M369.9 286.8 L369.9 292.4" stroke="#222" stroke-width="1.10" stroke-linecap="butt"/>
<path d="M580.9 286.8 L580.9 292.4" stroke="#222" stroke-width="1.10" stroke-linecap="butt"/>
<text x="475.7" y="289.0" font-family="Liberation Sans, sans-serif" font-size="10.4" text-anchor="middle" letter-spacing="0.10" fill="#000" stroke="#000" stroke-width="0.3" style="filter:grayscale(1)">650</text>
<path d="M370.2 315 L581 315 L581 325.1 L370.2 325.1 Z M370.2 315 L356.3 322.3 L356.3 331.7 L370.2 325.1 M356.3 331.7 L565 331.7 L581 324.8" stroke="#3a3a3a" stroke-width="1.3"/>
<path d="M371.8 328.3 L371.8 486.0" stroke="#111" stroke-width="1.10" stroke-linecap="butt"/>
<path d="M469.1 328.3 L469.1 486.0" stroke="#111" stroke-width="1.10" stroke-linecap="butt"/>
<path d="M564.2 328.3 L564.2 486.0" stroke="#111" stroke-width="1.10" stroke-linecap="butt"/>
<g transform="rotate(-25 577.4 334.3)"><text x="577.2" y="337.4" font-family="Liberation Sans, sans-serif" font-size="9.3" text-anchor="middle" letter-spacing="-0.25" fill="#000" stroke="#000" stroke-width="0.55" style="filter:grayscale(1)">100</text><path d="M569.0 338.5 L586.0 338.5" stroke="#000" stroke-width="1.10" stroke-linecap="butt"/><path d="M586.0 338.5 L586.0 332.5" stroke="#000" stroke-width="1.10" stroke-linecap="butt"/></g>
<path d="M602.6 314.5 L602.6 343.7" stroke="#222" stroke-width="0.90" stroke-linecap="butt"/>
<path d="M598.7 314.8 L603.1 314.8" stroke="#222" stroke-width="0.90" stroke-linecap="butt"/>
<path d="M600.4 324.6 L603.1 324.6" stroke="#222" stroke-width="0.90" stroke-linecap="butt"/>
<text x="602.2" y="335.4" font-family="Liberation Sans, sans-serif" font-size="10.2" text-anchor="middle" letter-spacing="-0.30" fill="#000" stroke="#000" stroke-width="0.45" style="filter:grayscale(1)" transform="rotate(-90 602.2 335.4)">H40</text>
<path d="M635.0 329.1 L635.0 562.7" stroke="#222" stroke-width="1.10" stroke-linecap="butt"/>
<path d="M630.7 329.1 L636.6 329.1" stroke="#222" stroke-width="1.00" stroke-linecap="butt"/>
<path d="M630.7 486.7 L636.6 486.7" stroke="#222" stroke-width="1.00" stroke-linecap="butt"/>
<path d="M630.7 562.7 L636.6 562.7" stroke="#222" stroke-width="1.00" stroke-linecap="butt"/>
<text x="634.4" y="407.8" font-family="Liberation Sans, sans-serif" font-size="9.6" text-anchor="middle" letter-spacing="0.10" fill="#000" stroke="#000" stroke-width="0.3" style="filter:grayscale(1)" transform="rotate(-90 634.4 407.8)">H2000</text>
<text x="634.4" y="524.9" font-family="Liberation Sans, sans-serif" font-size="9.6" text-anchor="middle" letter-spacing="0.35" fill="#000" stroke="#000" stroke-width="0.3" style="filter:grayscale(1)" transform="rotate(-90 634.4 524.9)">ø300</text>
<path d="M313.6 619.1 L620.9 619.1" stroke="#222" stroke-width="1.10" stroke-linecap="butt"/>
<path d="M313.6 615.0 L313.6 620.4" stroke="#222" stroke-width="1.10" stroke-linecap="butt"/>
<path d="M620.9 615.0 L620.9 620.2" stroke="#222" stroke-width="1.10" stroke-linecap="butt"/>
<text x="467.6" y="619.0" font-family="Liberation Sans, sans-serif" font-size="10.4" text-anchor="middle" letter-spacing="-0.40" fill="#000" stroke="#000" stroke-width="0.3" style="filter:grayscale(1)">L1200</text>
<path d="M313.9 559.7 L314.4 559.6 L314.9 559.6 L315.4 559.4 L315.9 559.2 L316.4 559.0 L316.9 558.7 L317.4 558.3 L317.9 557.9 L318.4 557.4 L318.9 556.8 L319.4 556.2 L319.9 555.6 L320.4 554.8 L320.9 554.1 L321.4 553.3 L321.9 552.6 L322.4 551.8 L322.9 551.1 L323.4 550.3 L323.9 549.6 L324.4 549.0 L324.9 548.3 L325.4 547.7 L325.9 547.0 L326.4 546.4 L326.9 545.7 L327.4 545.0 L327.9 544.2 L328.4 543.4 L328.9 542.6 L329.4 541.7 L329.9 540.8 L330.4 539.8 L330.9 538.8 L331.4 537.7 L331.9 536.6 L332.4 535.5 L332.9 534.4 L333.4 533.2 L333.9 532.1 L334.4 530.9 L334.9 529.7 L335.4 528.5 L335.9 527.3 L336.4 526.1 L336.9 524.9 L337.4 523.6 L337.9 522.4 L338.4 521.2 L338.9 520.0 L339.4 518.8 L339.9 517.5 L340.4 516.3 L340.9 515.1 L341.4 513.9 L341.9 512.8 L342.4 511.6 L342.9 510.4 L343.4 509.3 L343.9 508.1 L344.4 507.0 L344.9 505.9 L345.4 504.8 L345.9 503.7 L346.4 502.7 L346.9 501.7 L347.4 500.7 L347.9 499.7 L348.4 498.7 L348.9 497.8 L349.4 496.9 L349.9 496.0 L350.4 495.1 L350.9 494.3 L351.4 493.5 L351.9 492.7 L352.4 492.0 L352.9 491.3 L353.4 490.6 L353.9 490.0 L354.4 489.4 L354.9 488.8 L355.4 488.3 L355.9 487.8 L356.4 487.4 L356.9 487.0 L357.4 486.6 L357.9 486.2 L358.4 485.9 L358.9 485.7 L359.4 485.4 L359.9 485.3 L360.4 485.1 L360.9 485.0 L361.4 484.9 L361.9 484.9 L362.4 484.9 L362.9 484.9 L363.4 484.9 L363.9 484.9 L364.4 484.9 L364.9 484.9 L365.4 484.9 L365.9 484.9 L366.4 484.9 L366.9 484.9 L367.4 484.9 L367.9 484.9 L368.4 484.9 L368.9 484.9 L369.4 484.9 L369.9 484.9 L370.4 484.9 L370.9 484.9 L371.4 484.9 L371.9 484.9 L372.4 484.9 L372.9 484.9 L373.4 484.9 L373.9 484.9 L374.4 484.9 L374.9 484.9 L375.4 484.9 L375.9 484.9 L376.4 484.9 L376.9 484.9 L377.4 484.9 L377.9 484.9 L378.4 484.9 L378.9 484.9 L379.4 484.9 L379.9 484.9 L380.4 484.9 L380.9 484.9 L381.4 484.9 L381.9 485.0 L382.4 485.1 L382.9 485.2 L383.4 485.4 L383.9 485.6 L384.4 485.8 L384.9 486.1 L385.4 486.4 L385.9 486.8 L386.4 487.2 L386.9 487.6 L387.4 488.1 L387.9 488.6 L388.4 489.2 L388.9 489.8 L389.4 490.4 L389.9 491.0 L390.4 491.7 L390.9 492.4 L391.4 493.2 L391.9 494.0 L392.4 494.8 L392.9 495.6 L393.4 496.5 L393.9 497.4 L394.4 498.3 L394.9 499.3 L395.4 500.3 L395.9 501.3 L396.4 502.3 L396.9 503.3 L397.4 504.4 L397.9 505.5 L398.4 506.6 L398.9 507.7 L399.4 508.8 L399.9 510.0 L400.4 511.1 L400.9 512.3 L401.4 513.5 L401.9 514.7 L402.4 515.9 L402.9 517.1 L403.4 518.3 L403.9 519.5 L404.4 520.7 L404.9 521.9 L405.4 523.2 L405.9 524.4 L406.4 525.6 L406.9 526.8 L407.4 528.0 L407.9 529.2 L408.4 530.4 L408.9 531.6 L409.4 532.8 L409.9 533.9 L410.4 535.1 L410.9 536.2 L411.4 537.3 L411.9 538.4 L412.4 539.4 L412.9 540.4 L413.4 541.3 L413.9 542.3 L414.4 543.1 L414.9 543.9 L415.4 544.7 L415.9 545.4 L416.4 546.1 L416.9 546.8 L417.4 547.4 L417.9 548.1 L418.4 548.7 L418.9 549.4 L419.4 550.0 L419.9 549.9 L420.4 549.2 L420.9 548.6 L421.4 547.9 L421.9 547.3 L422.4 546.6 L422.9 546.0 L423.4 545.3 L423.9 544.5 L424.4 543.8 L424.9 542.9 L425.4 542.1 L425.9 541.2 L426.4 540.2 L426.9 539.2 L427.4 538.1 L427.9 537.1 L428.4 536.0 L428.9 534.8 L429.4 533.7 L429.9 532.5 L430.4 531.4 L430.9 530.2 L431.4 529.0 L431.9 527.8 L432.4 526.6 L432.9 525.3 L433.4 524.1 L433.9 522.9 L434.4 521.7 L434.9 520.5 L435.4 519.2 L435.9 518.0 L436.4 516.8 L436.9 515.6 L437.4 514.4 L437.9 513.2 L438.4 512.1 L438.9 510.9 L439.4 509.7 L439.9 508.6 L440.4 507.5 L440.9 506.3 L441.4 505.2 L441.9 504.2 L442.4 503.1 L442.9 502.1 L443.4 501.1 L443.9 500.1 L444.4 499.1 L444.9 498.1 L445.4 497.2 L445.9 496.3 L446.4 495.5 L446.9 494.6 L447.4 493.8 L447.9 493.0 L448.4 492.3 L448.9 491.6 L449.4 490.9 L449.9 490.3 L450.4 489.6 L450.9 489.1 L451.4 488.5 L451.9 488.0 L452.4 487.6 L452.9 487.1 L453.4 486.7 L453.9 486.4 L454.4 486.0 L454.9 485.8 L455.4 485.5 L455.9 485.3 L456.4 485.2 L456.9 485.0 L457.4 485.0 L457.9 484.9 L458.4 484.9 L458.9 484.9 L459.4 484.9 L459.9 484.9 L460.4 484.9 L460.9 484.9 L461.4 484.9 L461.9 484.9 L462.4 484.9 L462.9 484.9 L463.4 484.9 L463.9 484.9 L464.4 484.9 L464.9 484.9 L465.4 484.9 L465.9 484.9 L466.4 484.9 L466.9 484.9 L467.4 484.9 L467.9 484.9 L468.4 484.9 L468.9 484.9 L469.4 484.9 L469.9 484.9 L470.4 484.9 L470.9 484.9 L471.4 484.9 L471.9 484.9 L472.4 484.9 L472.9 484.9 L473.4 484.9 L473.9 484.9 L474.4 484.9 L474.9 484.9 L475.4 484.9 L475.9 484.9 L476.4 484.9 L476.9 484.9 L477.4 484.9 L477.9 484.9 L478.4 485.0 L478.9 485.1 L479.4 485.3 L479.9 485.5 L480.4 485.7 L480.9 486.0 L481.4 486.3 L481.9 486.6 L482.4 487.0 L482.9 487.5 L483.4 487.9 L483.9 488.4 L484.4 489.0 L484.9 489.5 L485.4 490.1 L485.9 490.8 L486.4 491.5 L486.9 492.2 L487.4 492.9 L487.9 493.7 L488.4 494.5 L488.9 495.3 L489.4 496.2 L489.9 497.0 L490.4 498.0 L490.9 498.9 L491.4 499.9 L491.9 500.9 L492.4 501.9 L492.9 502.9 L493.4 504.0 L493.9 505.0 L494.4 506.1 L494.9 507.2 L495.4 508.4 L495.9 509.5 L496.4 510.6 L496.9 511.8 L497.4 513.0 L497.9 514.2 L498.4 515.4 L498.9 516.6 L499.4 517.8 L499.9 519.0 L500.4 520.2 L500.9 521.4 L501.4 522.7 L501.9 523.9 L502.4 525.1 L502.9 526.3 L503.4 527.5 L503.9 528.7 L504.4 529.9 L504.9 531.1 L505.4 532.3 L505.9 533.5 L506.4 534.6 L506.9 535.7 L507.4 536.8 L507.9 537.9 L508.4 539.0 L508.9 540.0 L509.4 541.0 L509.9 541.9 L510.4 542.8 L510.9 543.6 L511.4 544.4 L511.9 545.1 L512.4 545.8 L512.9 546.5 L513.4 547.2 L513.9 547.8 L514.4 548.4 L514.9 549.1 L515.4 549.8 L515.9 550.2 L516.4 549.5 L516.9 548.8 L517.4 548.2 L517.9 547.5 L518.4 546.9 L518.9 546.2 L519.4 545.6 L519.9 544.8 L520.4 544.1 L520.9 543.3 L521.4 542.4 L521.9 541.5 L522.4 540.6 L522.9 539.6 L523.4 538.6 L523.9 537.5 L524.4 536.4 L524.9 535.3 L525.4 534.2 L525.9 533.0 L526.4 531.8 L526.9 530.7 L527.4 529.5 L527.9 528.3 L528.4 527.0 L528.9 525.8 L529.4 524.6 L529.9 523.4 L530.4 522.2 L530.9 521.0 L531.4 519.7 L531.9 518.5 L532.4 517.3 L532.9 516.1 L533.4 514.9 L533.9 513.7 L534.4 512.5 L534.9 511.3 L535.4 510.2 L535.9 509.0 L536.4 507.9 L536.9 506.8 L537.4 505.7 L537.9 504.6 L538.4 503.5 L538.9 502.5 L539.4 501.5 L539.9 500.5 L540.4 499.5 L540.9 498.5 L541.4 497.6 L541.9 496.7 L542.4 495.8 L542.9 495.0 L543.4 494.1 L543.9 493.4 L544.4 492.6 L544.9 491.9 L545.4 491.2 L545.9 490.5 L546.4 489.9 L546.9 489.3 L547.4 488.7 L547.9 488.2 L548.4 487.7 L548.9 487.3 L549.4 486.9 L549.9 486.5 L550.4 486.2 L550.9 485.9 L551.4 485.6 L551.9 485.4 L552.4 485.2 L552.9 485.1 L553.4 485.0 L553.9 484.9 L554.4 484.9 L554.9 484.9 L555.4 484.9 L555.9 484.9 L556.4 484.9 L556.9 484.9 L557.4 484.9 L557.9 484.9 L558.4 484.9 L558.9 484.9 L559.4 484.9 L559.9 484.9 L560.4 484.9 L560.9 484.9 L561.4 484.9 L561.9 484.9 L562.4 484.9 L562.9 484.9 L563.4 484.9 L563.9 484.9 L564.4 484.9 L564.9 484.9 L565.4 484.9 L565.9 484.9 L566.4 484.9 L566.9 484.9 L567.4 484.9 L567.9 484.9 L568.4 484.9 L568.9 484.9 L569.4 484.9 L569.9 484.9 L570.4 484.9 L570.9 484.9 L571.4 484.9 L571.9 484.9 L572.4 484.9 L572.9 484.9 L573.4 484.9 L573.9 484.9 L574.4 485.0 L574.9 485.1 L575.4 485.2 L575.9 485.4 L576.4 485.6 L576.9 485.9 L577.4 486.2 L577.9 486.5 L578.4 486.9 L578.9 487.3 L579.4 487.7 L579.9 488.2 L580.4 488.7 L580.9 489.3 L581.4 489.9 L581.9 490.5 L582.4 491.2 L582.9 491.9 L583.4 492.6 L583.9 493.4 L584.4 494.1 L584.9 495.0 L585.4 495.8 L585.9 496.7 L586.4 497.6 L586.9 498.5 L587.4 499.5 L587.9 500.5 L588.4 501.5 L588.9 502.5 L589.4 503.5 L589.9 504.6 L590.4 505.7 L590.9 506.8 L591.4 507.9 L591.9 509.0 L592.4 510.2 L592.9 511.3 L593.4 512.5 L593.9 513.7 L594.4 514.9 L594.9 516.1 L595.4 517.3 L595.9 518.5 L596.4 519.7 L596.9 521.0 L597.4 522.2 L597.9 523.4 L598.4 524.6 L598.9 525.8 L599.4 527.0 L599.9 528.3 L600.4 529.5 L600.9 530.7 L601.4 531.8 L601.9 533.0 L602.4 534.2 L602.9 535.3 L603.4 536.4 L603.9 537.5 L604.4 538.6 L604.9 539.6 L605.4 540.6 L605.9 541.5 L606.4 542.4 L606.9 543.3 L607.4 544.1 L607.9 544.8 L608.4 545.6 L608.9 546.2 L609.4 546.9 L609.9 547.5 L610.4 548.2 L610.9 548.8 L611.4 549.5 L611.9 550.2 L612.4 550.9 L612.9 551.6 L613.4 552.4 L613.9 553.2 L614.4 553.9 L614.9 554.7 L615.4 555.4 L615.9 556.1 L616.4 556.7 L616.9 557.3 L617.4 557.8 L617.9 558.2 L618.4 558.6 L618.9 558.9 L619.4 559.2 L619.9 559.4 L620.4 559.5 L620.9 559.6 L621.4 559.7 L621.4 563.3 L620.9 563.3 L620.4 563.3 L619.9 563.3 L619.4 563.3 L618.9 563.3 L618.4 563.3 L617.9 563.3 L617.4 563.3 L616.9 563.3 L616.4 563.3 L615.9 563.3 L615.4 563.3 L614.9 563.3 L614.4 563.3 L613.9 563.3 L613.4 563.3 L612.9 563.3 L612.4 563.3 L611.9 563.3 L611.4 563.3 L610.9 563.3 L610.4 563.3 L609.9 563.3 L609.4 563.3 L608.9 563.3 L608.4 563.3 L607.9 563.3 L607.4 563.3 L606.9 563.3 L606.4 563.3 L605.9 563.3 L605.4 563.3 L604.9 563.3 L604.4 563.3 L603.9 563.3 L603.4 563.3 L602.9 563.3 L602.4 563.3 L601.9 563.3 L601.4 563.2 L600.9 563.1 L600.4 562.9 L599.9 562.8 L599.4 562.5 L598.9 562.3 L598.4 562.0 L597.9 561.6 L597.4 561.2 L596.9 560.8 L596.4 560.4 L595.9 559.9 L595.4 559.4 L594.9 558.8 L594.4 558.2 L593.9 557.6 L593.4 556.9 L592.9 556.2 L592.4 555.5 L591.9 554.7 L591.4 553.9 L590.9 553.1 L590.4 552.2 L589.9 551.3 L589.4 550.4 L588.9 549.5 L588.4 548.5 L587.9 547.5 L587.4 546.5 L586.9 545.5 L586.4 544.5 L585.9 543.4 L585.4 542.3 L584.9 541.2 L584.4 540.1 L583.9 538.9 L583.4 537.8 L582.9 536.6 L582.4 535.4 L581.9 534.3 L581.4 533.1 L580.9 531.9 L580.4 530.7 L579.9 529.4 L579.4 528.2 L578.9 527.0 L578.4 525.8 L577.9 524.6 L577.4 523.3 L576.9 522.1 L576.4 520.9 L575.9 519.7 L575.4 518.5 L574.9 517.3 L574.4 516.1 L573.9 515.0 L573.4 513.8 L572.9 512.7 L572.4 511.6 L571.9 510.5 L571.4 509.4 L570.9 508.4 L570.4 507.5 L569.9 506.5 L569.4 505.6 L568.9 504.8 L568.4 504.0 L567.9 503.3 L567.4 502.6 L566.9 502.0 L566.4 501.3 L565.9 500.7 L565.4 500.1 L564.9 499.4 L564.4 498.8 L563.9 498.1 L563.4 498.8 L562.9 499.4 L562.4 500.1 L561.9 500.7 L561.4 501.3 L560.9 502.0 L560.4 502.6 L559.9 503.3 L559.4 504.0 L558.9 504.8 L558.4 505.6 L557.9 506.5 L557.4 507.5 L556.9 508.4 L556.4 509.4 L555.9 510.5 L555.4 511.6 L554.9 512.7 L554.4 513.8 L553.9 515.0 L553.4 516.1 L552.9 517.3 L552.4 518.5 L551.9 519.7 L551.4 520.9 L550.9 522.1 L550.4 523.3 L549.9 524.6 L549.4 525.8 L548.9 527.0 L548.4 528.2 L547.9 529.4 L547.4 530.7 L546.9 531.9 L546.4 533.1 L545.9 534.3 L545.4 535.4 L544.9 536.6 L544.4 537.8 L543.9 538.9 L543.4 540.1 L542.9 541.2 L542.4 542.3 L541.9 543.4 L541.4 544.5 L540.9 545.5 L540.4 546.5 L539.9 547.5 L539.4 548.5 L538.9 549.5 L538.4 550.4 L537.9 551.3 L537.4 552.2 L536.9 553.1 L536.4 553.9 L535.9 554.7 L535.4 555.5 L534.9 556.2 L534.4 556.9 L533.9 557.6 L533.4 558.2 L532.9 558.8 L532.4 559.4 L531.9 559.9 L531.4 560.4 L530.9 560.8 L530.4 561.2 L529.9 561.6 L529.4 562.0 L528.9 562.3 L528.4 562.5 L527.9 562.8 L527.4 562.9 L526.9 563.1 L526.4 563.2 L525.9 563.3 L525.4 563.3 L524.9 563.3 L524.4 563.3 L523.9 563.3 L523.4 563.3 L522.9 563.3 L522.4 563.3 L521.9 563.3 L521.4 563.3 L520.9 563.3 L520.4 563.3 L519.9 563.3 L519.4 563.3 L518.9 563.3 L518.4 563.3 L517.9 563.3 L517.4 563.3 L516.9 563.3 L516.4 563.3 L515.9 563.3 L515.4 563.3 L514.9 563.3 L514.4 563.3 L513.9 563.3 L513.4 563.3 L512.9 563.3 L512.4 563.3 L511.9 563.3 L511.4 563.3 L510.9 563.3 L510.4 563.3 L509.9 563.3 L509.4 563.3 L508.9 563.3 L508.4 563.3 L507.9 563.3 L507.4 563.3 L506.9 563.3 L506.4 563.3 L505.9 563.3 L505.4 563.2 L504.9 563.1 L504.4 563.0 L503.9 562.8 L503.4 562.6 L502.9 562.4 L502.4 562.1 L501.9 561.8 L501.4 561.4 L500.9 561.0 L500.4 560.6 L499.9 560.1 L499.4 559.6 L498.9 559.0 L498.4 558.4 L497.9 557.8 L497.4 557.2 L496.9 556.5 L496.4 555.8 L495.9 555.0 L495.4 554.2 L494.9 553.4 L494.4 552.6 L493.9 551.7 L493.4 550.8 L492.9 549.9 L492.4 548.9 L491.9 547.9 L491.4 546.9 L490.9 545.9 L490.4 544.9 L489.9 543.8 L489.4 542.7 L488.9 541.6 L488.4 540.5 L487.9 539.4 L487.4 538.2 L486.9 537.1 L486.4 535.9 L485.9 534.7 L485.4 533.5 L484.9 532.3 L484.4 531.1 L483.9 529.9 L483.4 528.7 L482.9 527.5 L482.4 526.3 L481.9 525.0 L481.4 523.8 L480.9 522.6 L480.4 521.4 L479.9 520.2 L479.4 519.0 L478.9 517.8 L478.4 516.6 L477.9 515.4 L477.4 514.3 L476.9 513.1 L476.4 512.0 L475.9 510.9 L475.4 509.9 L474.9 508.8 L474.4 507.8 L473.9 506.9 L473.4 506.0 L472.9 505.1 L472.4 504.3 L471.9 503.6 L471.4 502.9 L470.9 502.2 L470.4 501.6 L469.9 500.9 L469.4 500.3 L468.9 499.7 L468.4 499.0 L467.9 498.4 L467.4 498.5 L466.9 499.2 L466.4 499.8 L465.9 500.4 L465.4 501.1 L464.9 501.7 L464.4 502.3 L463.9 503.0 L463.4 503.7 L462.9 504.5 L462.4 505.3 L461.9 506.2 L461.4 507.1 L460.9 508.0 L460.4 509.0 L459.9 510.1 L459.4 511.1 L458.9 512.2 L458.4 513.4 L457.9 514.5 L457.4 515.7 L456.9 516.8 L456.4 518.0 L455.9 519.2 L455.4 520.4 L454.9 521.6 L454.4 522.9 L453.9 524.1 L453.4 525.3 L452.9 526.5 L452.4 527.7 L451.9 529.0 L451.4 530.2 L450.9 531.4 L450.4 532.6 L449.9 533.8 L449.4 535.0 L448.9 536.1 L448.4 537.3 L447.9 538.5 L447.4 539.6 L446.9 540.7 L446.4 541.9 L445.9 543.0 L445.4 544.0 L444.9 545.1 L444.4 546.1 L443.9 547.1 L443.4 548.1 L442.9 549.1 L442.4 550.1 L441.9 551.0 L441.4 551.9 L440.9 552.7 L440.4 553.6 L439.9 554.4 L439.4 555.2 L438.9 555.9 L438.4 556.6 L437.9 557.3 L437.4 557.9 L436.9 558.6 L436.4 559.1 L435.9 559.7 L435.4 560.2 L434.9 560.6 L434.4 561.1 L433.9 561.5 L433.4 561.8 L432.9 562.2 L432.4 562.4 L431.9 562.7 L431.4 562.9 L430.9 563.0 L430.4 563.2 L429.9 563.2 L429.4 563.3 L428.9 563.3 L428.4 563.3 L427.9 563.3 L427.4 563.3 L426.9 563.3 L426.4 563.3 L425.9 563.3 L425.4 563.3 L424.9 563.3 L424.4 563.3 L423.9 563.3 L423.4 563.3 L422.9 563.3 L422.4 563.3 L421.9 563.3 L421.4 563.3 L420.9 563.3 L420.4 563.3 L419.9 563.3 L419.4 563.3 L418.9 563.3 L418.4 563.3 L417.9 563.3 L417.4 563.3 L416.9 563.3 L416.4 563.3 L415.9 563.3 L415.4 563.3 L414.9 563.3 L414.4 563.3 L413.9 563.3 L413.4 563.3 L412.9 563.3 L412.4 563.3 L411.9 563.3 L411.4 563.3 L410.9 563.3 L410.4 563.3 L409.9 563.3 L409.4 563.3 L408.9 563.2 L408.4 563.1 L407.9 562.9 L407.4 562.7 L406.9 562.5 L406.4 562.2 L405.9 561.9 L405.4 561.6 L404.9 561.2 L404.4 560.7 L403.9 560.3 L403.4 559.8 L402.9 559.2 L402.4 558.7 L401.9 558.1 L401.4 557.4 L400.9 556.7 L400.4 556.0 L399.9 555.3 L399.4 554.5 L398.9 553.7 L398.4 552.9 L397.9 552.0 L397.4 551.2 L396.9 550.2 L396.4 549.3 L395.9 548.3 L395.4 547.3 L394.9 546.3 L394.4 545.3 L393.9 544.2 L393.4 543.2 L392.9 542.1 L392.4 541.0 L391.9 539.8 L391.4 538.7 L390.9 537.6 L390.4 536.4 L389.9 535.2 L389.4 534.0 L388.9 532.8 L388.4 531.6 L387.9 530.4 L387.4 529.2 L386.9 528.0 L386.4 526.8 L385.9 525.5 L385.4 524.3 L384.9 523.1 L384.4 521.9 L383.9 520.7 L383.4 519.5 L382.9 518.3 L382.4 517.1 L381.9 515.9 L381.4 514.7 L380.9 513.6 L380.4 512.5 L379.9 511.4 L379.4 510.3 L378.9 509.2 L378.4 508.2 L377.9 507.3 L377.4 506.3 L376.9 505.5 L376.4 504.7 L375.9 503.9 L375.4 503.2 L374.9 502.5 L374.4 501.8 L373.9 501.2 L373.4 500.6 L372.9 499.9 L372.4 499.3 L371.9 498.6 L371.4 498.2 L370.9 498.9 L370.4 499.6 L369.9 500.2 L369.4 500.8 L368.9 501.4 L368.4 502.1 L367.9 502.7 L367.4 503.4 L366.9 504.2 L366.4 505.0 L365.9 505.8 L365.4 506.7 L364.9 507.6 L364.4 508.6 L363.9 509.7 L363.4 510.7 L362.9 511.8 L362.4 512.9 L361.9 514.0 L361.4 515.2 L360.9 516.4 L360.4 517.5 L359.9 518.7 L359.4 519.9 L358.9 521.2 L358.4 522.4 L357.9 523.6 L357.4 524.8 L356.9 526.0 L356.4 527.2 L355.9 528.5 L355.4 529.7 L354.9 530.9 L354.4 532.1 L353.9 533.3 L353.4 534.5 L352.9 535.7 L352.4 536.9 L351.9 538.0 L351.4 539.2 L350.9 540.3 L350.4 541.4 L349.9 542.5 L349.4 543.6 L348.9 544.7 L348.4 545.7 L347.9 546.7 L347.4 547.7 L346.9 548.7 L346.4 549.7 L345.9 550.6 L345.4 551.5 L344.9 552.4 L344.4 553.2 L343.9 554.1 L343.4 554.8 L342.9 555.6 L342.4 556.3 L341.9 557.0 L341.4 557.7 L340.9 558.3 L340.4 558.9 L339.9 559.5 L339.4 560.0 L338.9 560.5 L338.4 560.9 L337.9 561.3 L337.4 561.7 L336.9 562.0 L336.4 562.3 L335.9 562.6 L335.4 562.8 L334.9 563.0 L334.4 563.1 L333.9 563.2 L333.4 563.3 L332.9 563.3 L332.4 563.3 L331.9 563.3 L331.4 563.3 L330.9 563.3 L330.4 563.3 L329.9 563.3 L329.4 563.3 L328.9 563.3 L328.4 563.3 L327.9 563.3 L327.4 563.3 L326.9 563.3 L326.4 563.3 L325.9 563.3 L325.4 563.3 L324.9 563.3 L324.4 563.3 L323.9 563.3 L323.4 563.3 L322.9 563.3 L322.4 563.3 L321.9 563.3 L321.4 563.3 L320.9 563.3 L320.4 563.3 L319.9 563.3 L319.4 563.3 L318.9 563.3 L318.4 563.3 L317.9 563.3 L317.4 563.3 L316.9 563.3 L316.4 563.3 L315.9 563.3 L315.4 563.3 L314.9 563.3 L314.4 563.3 L313.9 563.3 Z" fill="#000" stroke="#000" stroke-width="0.8" stroke-linejoin="round"/>
<ellipse cx="317.9" cy="560.9" rx="4.5" ry="2.7" fill="#000" stroke="none"/>
<ellipse cx="617.5" cy="560.9" rx="4.5" ry="2.7" fill="#000" stroke="none"/>
<path d="M319.8 556.28 h20.0 v4.08 h-20.0 Z M323.1 552.20 h20.0 v4.08 h-20.0 Z M325.6 548.12 h20.0 v4.08 h-20.0 Z M327.8 544.04 h20.0 v4.08 h-20.0 Z M329.8 539.96 h20.0 v4.08 h-20.0 Z M331.7 535.88 h20.0 v4.08 h-20.0 Z M333.4 531.80 h20.0 v4.08 h-20.0 Z M335.1 527.72 h20.0 v4.08 h-20.0 Z M336.8 523.64 h20.0 v4.08 h-20.0 Z M338.5 519.56 h20.0 v4.08 h-20.0 Z M340.2 515.48 h20.0 v4.08 h-20.0 Z M341.9 511.40 h20.0 v4.08 h-20.0 Z M343.7 507.32 h20.0 v4.08 h-20.0 Z M345.5 503.24 h20.0 v4.08 h-20.0 Z M347.5 499.16 h20.0 v4.08 h-20.0 Z M349.8 495.08 h20.0 v4.08 h-20.0 Z M352.5 491.00 h20.0 v4.08 h-20.0 Z M367.9 487.84 h20.0 v4.08 h-20.0 Z M371.2 491.92 h20.0 v4.08 h-20.0 Z M373.7 496.00 h20.0 v4.08 h-20.0 Z M375.9 500.08 h20.0 v4.08 h-20.0 Z M377.9 504.16 h20.0 v4.08 h-20.0 Z M379.8 508.24 h20.0 v4.08 h-20.0 Z M381.5 512.32 h20.0 v4.08 h-20.0 Z M383.2 516.40 h20.0 v4.08 h-20.0 Z M384.9 520.48 h20.0 v4.08 h-20.0 Z M386.6 524.56 h20.0 v4.08 h-20.0 Z M388.3 528.64 h20.0 v4.08 h-20.0 Z M390.0 532.72 h20.0 v4.08 h-20.0 Z M391.8 536.80 h20.0 v4.08 h-20.0 Z M393.6 540.88 h20.0 v4.08 h-20.0 Z M395.6 544.96 h20.0 v4.08 h-20.0 Z M397.9 549.04 h20.0 v4.08 h-20.0 Z M400.6 553.12 h20.0 v4.08 h-20.0 Z M416.0 556.28 h20.0 v4.08 h-20.0 Z M419.3 552.20 h20.0 v4.08 h-20.0 Z M421.8 548.12 h20.0 v4.08 h-20.0 Z M424.0 544.04 h20.0 v4.08 h-20.0 Z M426.0 539.96 h20.0 v4.08 h-20.0 Z M427.9 535.88 h20.0 v4.08 h-20.0 Z M429.6 531.80 h20.0 v4.08 h-20.0 Z M431.3 527.72 h20.0 v4.08 h-20.0 Z M433.0 523.64 h20.0 v4.08 h-20.0 Z M434.7 519.56 h20.0 v4.08 h-20.0 Z M436.4 515.48 h20.0 v4.08 h-20.0 Z M438.1 511.40 h20.0 v4.08 h-20.0 Z M439.9 507.32 h20.0 v4.08 h-20.0 Z M441.7 503.24 h20.0 v4.08 h-20.0 Z M443.7 499.16 h20.0 v4.08 h-20.0 Z M446.0 495.08 h20.0 v4.08 h-20.0 Z M448.7 491.00 h20.0 v4.08 h-20.0 Z M464.1 487.84 h20.0 v4.08 h-20.0 Z M467.4 491.92 h20.0 v4.08 h-20.0 Z M469.9 496.00 h20.0 v4.08 h-20.0 Z M472.1 500.08 h20.0 v4.08 h-20.0 Z M474.1 504.16 h20.0 v4.08 h-20.0 Z M476.0 508.24 h20.0 v4.08 h-20.0 Z M477.7 512.32 h20.0 v4.08 h-20.0 Z M479.4 516.40 h20.0 v4.08 h-20.0 Z M481.1 520.48 h20.0 v4.08 h-20.0 Z M482.8 524.56 h20.0 v4.08 h-20.0 Z M484.5 528.64 h20.0 v4.08 h-20.0 Z M486.2 532.72 h20.0 v4.08 h-20.0 Z M488.0 536.80 h20.0 v4.08 h-20.0 Z M489.8 540.88 h20.0 v4.08 h-20.0 Z M491.8 544.96 h20.0 v4.08 h-20.0 Z M494.1 549.04 h20.0 v4.08 h-20.0 Z M496.8 553.12 h20.0 v4.08 h-20.0 Z M512.2 556.28 h20.0 v4.08 h-20.0 Z M515.5 552.20 h20.0 v4.08 h-20.0 Z M518.0 548.12 h20.0 v4.08 h-20.0 Z M520.2 544.04 h20.0 v4.08 h-20.0 Z M522.2 539.96 h20.0 v4.08 h-20.0 Z M524.1 535.88 h20.0 v4.08 h-20.0 Z M525.8 531.80 h20.0 v4.08 h-20.0 Z M527.5 527.72 h20.0 v4.08 h-20.0 Z M529.2 523.64 h20.0 v4.08 h-20.0 Z M530.9 519.56 h20.0 v4.08 h-20.0 Z M532.6 515.48 h20.0 v4.08 h-20.0 Z M534.3 511.40 h20.0 v4.08 h-20.0 Z M536.1 507.32 h20.0 v4.08 h-20.0 Z M537.9 503.24 h20.0 v4.08 h-20.0 Z M539.9 499.16 h20.0 v4.08 h-20.0 Z M542.2 495.08 h20.0 v4.08 h-20.0 Z M544.9 491.00 h20.0 v4.08 h-20.0 Z M560.3 487.84 h20.0 v4.08 h-20.0 Z M563.6 491.92 h20.0 v4.08 h-20.0 Z M566.1 496.00 h20.0 v4.08 h-20.0 Z M568.3 500.08 h20.0 v4.08 h-20.0 Z M570.3 504.16 h20.0 v4.08 h-20.0 Z M572.2 508.24 h20.0 v4.08 h-20.0 Z M573.9 512.32 h20.0 v4.08 h-20.0 Z M575.6 516.40 h20.0 v4.08 h-20.0 Z M577.3 520.48 h20.0 v4.08 h-20.0 Z M579.0 524.56 h20.0 v4.08 h-20.0 Z M580.7 528.64 h20.0 v4.08 h-20.0 Z M582.4 532.72 h20.0 v4.08 h-20.0 Z M584.2 536.80 h20.0 v4.08 h-20.0 Z M586.0 540.88 h20.0 v4.08 h-20.0 Z M588.0 544.96 h20.0 v4.08 h-20.0 Z M590.3 549.04 h20.0 v4.08 h-20.0 Z M593.0 553.12 h20.0 v4.08 h-20.0 Z " fill="#000" stroke="none"/>
<path d="M326.4 553.29 h13.5 v1.9 h-13.5 Z M328.9 549.21 h13.5 v1.9 h-13.5 Z M331.1 545.13 h13.5 v1.9 h-13.5 Z M333.1 541.05 h13.5 v1.9 h-13.5 Z M334.9 536.97 h13.5 v1.9 h-13.5 Z M336.7 532.89 h13.5 v1.9 h-13.5 Z M338.4 528.81 h13.5 v1.9 h-13.5 Z M340.1 524.73 h13.5 v1.9 h-13.5 Z M341.7 520.65 h13.5 v1.9 h-13.5 Z M343.4 516.57 h13.5 v1.9 h-13.5 Z M345.1 512.49 h13.5 v1.9 h-13.5 Z M346.9 508.41 h13.5 v1.9 h-13.5 Z M348.8 504.33 h13.5 v1.9 h-13.5 Z M353.0 496.17 h13.5 v1.9 h-13.5 Z M422.6 553.29 h13.5 v1.9 h-13.5 Z M425.1 549.21 h13.5 v1.9 h-13.5 Z M427.3 545.13 h13.5 v1.9 h-13.5 Z M429.3 541.05 h13.5 v1.9 h-13.5 Z M431.1 536.97 h13.5 v1.9 h-13.5 Z M432.9 532.89 h13.5 v1.9 h-13.5 Z M434.6 528.81 h13.5 v1.9 h-13.5 Z M436.3 524.73 h13.5 v1.9 h-13.5 Z M437.9 520.65 h13.5 v1.9 h-13.5 Z M439.6 516.57 h13.5 v1.9 h-13.5 Z M441.3 512.49 h13.5 v1.9 h-13.5 Z M443.1 508.41 h13.5 v1.9 h-13.5 Z M445.0 504.33 h13.5 v1.9 h-13.5 Z M449.2 496.17 h13.5 v1.9 h-13.5 Z M518.8 553.29 h13.5 v1.9 h-13.5 Z M521.3 549.21 h13.5 v1.9 h-13.5 Z M523.5 545.13 h13.5 v1.9 h-13.5 Z M525.5 541.05 h13.5 v1.9 h-13.5 Z M527.3 536.97 h13.5 v1.9 h-13.5 Z M529.1 532.89 h13.5 v1.9 h-13.5 Z M530.8 528.81 h13.5 v1.9 h-13.5 Z M532.5 524.73 h13.5 v1.9 h-13.5 Z M534.1 520.65 h13.5 v1.9 h-13.5 Z M535.8 516.57 h13.5 v1.9 h-13.5 Z M537.5 512.49 h13.5 v1.9 h-13.5 Z M539.3 508.41 h13.5 v1.9 h-13.5 Z M541.2 504.33 h13.5 v1.9 h-13.5 Z M545.4 496.17 h13.5 v1.9 h-13.5 Z " fill="#fff" stroke="none"/>
<path d="M371.1 488.93 h13.5 v1.9 h-13.5 Z M374.5 493.01 h13.5 v1.9 h-13.5 Z M377.0 497.09 h13.5 v1.9 h-13.5 Z M379.2 501.17 h13.5 v1.9 h-13.5 Z M381.2 505.25 h13.5 v1.9 h-13.5 Z M383.0 509.33 h13.5 v1.9 h-13.5 Z M384.8 513.41 h13.5 v1.9 h-13.5 Z M386.5 517.49 h13.5 v1.9 h-13.5 Z M388.2 521.57 h13.5 v1.9 h-13.5 Z M389.8 525.65 h13.5 v1.9 h-13.5 Z M391.5 529.73 h13.5 v1.9 h-13.5 Z M393.2 533.81 h13.5 v1.9 h-13.5 Z M395.0 537.89 h13.5 v1.9 h-13.5 Z M396.9 541.97 h13.5 v1.9 h-13.5 Z M398.9 546.05 h13.5 v1.9 h-13.5 Z M401.1 550.13 h13.5 v1.9 h-13.5 Z M403.8 554.21 h13.5 v1.9 h-13.5 Z M467.3 488.93 h13.5 v1.9 h-13.5 Z M470.7 493.01 h13.5 v1.9 h-13.5 Z M473.2 497.09 h13.5 v1.9 h-13.5 Z M475.4 501.17 h13.5 v1.9 h-13.5 Z M477.4 505.25 h13.5 v1.9 h-13.5 Z M479.2 509.33 h13.5 v1.9 h-13.5 Z M481.0 513.41 h13.5 v1.9 h-13.5 Z M482.7 517.49 h13.5 v1.9 h-13.5 Z M484.4 521.57 h13.5 v1.9 h-13.5 Z M486.0 525.65 h13.5 v1.9 h-13.5 Z M487.7 529.73 h13.5 v1.9 h-13.5 Z M489.4 533.81 h13.5 v1.9 h-13.5 Z M491.2 537.89 h13.5 v1.9 h-13.5 Z M493.1 541.97 h13.5 v1.9 h-13.5 Z M495.1 546.05 h13.5 v1.9 h-13.5 Z M497.3 550.13 h13.5 v1.9 h-13.5 Z M500.0 554.21 h13.5 v1.9 h-13.5 Z M563.5 488.93 h13.5 v1.9 h-13.5 Z M566.9 493.01 h13.5 v1.9 h-13.5 Z M569.4 497.09 h13.5 v1.9 h-13.5 Z M571.6 501.17 h13.5 v1.9 h-13.5 Z M573.6 505.25 h13.5 v1.9 h-13.5 Z M575.4 509.33 h13.5 v1.9 h-13.5 Z M577.2 513.41 h13.5 v1.9 h-13.5 Z M578.9 517.49 h13.5 v1.9 h-13.5 Z M580.6 521.57 h13.5 v1.9 h-13.5 Z M582.2 525.65 h13.5 v1.9 h-13.5 Z M583.9 529.73 h13.5 v1.9 h-13.5 Z M585.6 533.81 h13.5 v1.9 h-13.5 Z M587.4 537.89 h13.5 v1.9 h-13.5 Z M589.3 541.97 h13.5 v1.9 h-13.5 Z M591.3 546.05 h13.5 v1.9 h-13.5 Z M593.5 550.13 h13.5 v1.9 h-13.5 Z M596.2 554.21 h13.5 v1.9 h-13.5 Z " fill="#d4d4d4" stroke="none"/>
</g>
<!-- /LAMP -->
</svg>
<div class="lst" style="top:764.6px"><b>1.</b>Выключить питание</div>
<div class="lst" style="top:779.3px"><b>2.</b>Крепить планку к потолку</div>
<div class="lst" style="top:794px"><b>3.</b>Монтажный провод</div>
<div class="lst" style="top:808.7px"><b>4.</b>Включить</div>
<div id="footer">Product coding: MUSIKA SP100W LED L1200</div>
</body></html>
